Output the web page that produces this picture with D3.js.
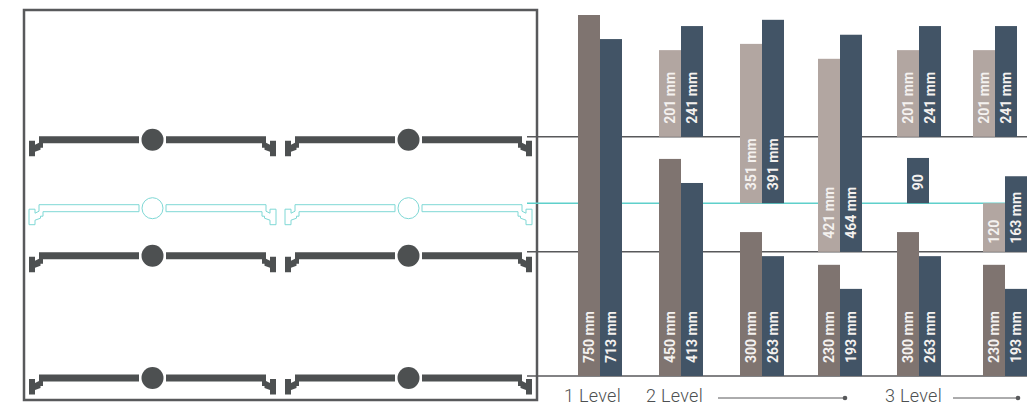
<!DOCTYPE html>
<html>
<head>
<meta charset="utf-8">
<script src="https://d3js.org/d3.v7.min.js"></script>
<style>
  html, body { margin: 0; padding: 0; background: #fff; }
  svg { display: block; }
</style>
</head>
<body>
<div id="chart"></div>
<script>
// floor levels, mm above the bottom line
var levels = [0, 258, 359, 497];
var levelKinds = ["floor", "floor", "water", "floor"];

// one entry per bar
var barStacks = ["A", "A", "B", "B", "C", "C", "D", "D", "E", "E", "F", "F",
                 "G", "G", "H", "H", "I", "I", "J", "J", "K", "L", "L", "M", "M"];
var barKinds = ["dark", "navy", "dark", "navy", "dark", "navy", "dark", "navy", "dark", "navy", "dark", "navy",
                "light", "navy", "light", "navy", "light", "navy", "light", "navy", "navy", "light", "navy", "light", "navy"];
var barBases = [0, 0, 0, 0, 0, 0, 0, 0, 0, 0, 0, 0,
                497, 497, 359, 359, 258, 258, 497, 497, 359, 258, 258, 497, 497];
var barTops = [750, 700, 451, 401, 299, 249, 231, 181, 299, 249, 231, 181,
               677, 727, 690, 740, 659, 709, 677, 727, 453, 359, 415, 677, 727];
var barLabels = ["750 mm", "713 mm", "450 mm", "413 mm", "300 mm", "263 mm", "230 mm", "193 mm",
                 "300 mm", "263 mm", "230 mm", "193 mm",
                 "201 mm", "241 mm", "351 mm", "391 mm", "421 mm", "464 mm",
                 "201 mm", "241 mm", "90", "120", "163 mm", "201 mm", "241 mm"];

var stackNames = ["A", "B", "C", "D", "E", "F", "G", "H", "I", "J", "K", "L", "M"];
var captions = ["1 Level", "2 Level", "3 Level"];

var svgWidth = 1027;
var svgHeight = 403;

var svg = d3.select("#chart").append("svg")
    .attr("width", svgWidth)
    .attr("height", svgHeight);

var yScale = d3.scaleLinear()
    .domain([0, 750])
    .range([376, 15]);

var xScale = d3.scaleOrdinal()
    .domain(stackNames)
    .range([578, 659, 740, 818, 897, 983, 659, 740, 818, 897, 907, 983, 973]);

var barWidth = 22;

var barColor = d3.scaleOrdinal()
    .domain(["dark", "light", "navy"])
    .range(["#7f7470", "#b2a6a1", "#425466"]);

var lineColor = d3.scaleOrdinal()
    .domain(["floor", "water"])
    .range(["#58595b", "#5fd0cb"]);

// left panel
svg.append("rect")
    .attr("x", 24)
    .attr("y", 10)
    .attr("width", 513)
    .attr("height", 390)
    .attr("fill", "none")
    .attr("stroke", "#58595b")
    .attr("stroke-width", 2.5);

// level lines
svg.selectAll(".level")
    .data(levels)
    .enter()
    .append("line")
    .attr("class", "level")
    .attr("x1", 527)
    .attr("x2", svgWidth)
    .attr("y1", d => yScale(d))
    .attr("y2", d => yScale(d))
    .attr("stroke", (d, i) => lineColor(levelKinds[i]))
    .attr("stroke-width", 1.5);

// half of a door profile, drawn to the left of the pivot
var halfProfile = "M-113.5,-3.5 L-13.5,-3.5 L-13.5,3.5 L-109.5,3.5 L-109.5,8 L-112,8 L-112,10 L-117.5,12 L-117.5,16.5 L-123.5,16.5 L-123.5,1 L-117.5,1 L-117.5,5 L-113.5,3 Z";

var rowOffsets = [2, 4, 5, 3];
var pivots = [152.5, 408.5];

levels.forEach(function(level, i) {
    var filled = levelKinds[i] === "floor";
    var color = filled ? "#4d5051" : "#7fd8d5";
    pivots.forEach(function(px) {
        var g = svg.append("g")
            .attr("transform", `translate(${px}, ${yScale(level) + rowOffsets[i]})`);
        [1, -1].forEach(function(side) {
            g.append("path")
                .attr("d", halfProfile)
                .attr("transform", `scale(${side}, 1)`)
                .attr("fill", filled ? color : "#fff")
                .attr("stroke", filled ? "none" : color)
                .attr("stroke-width", 1);
        });
        g.append("circle")
            .attr("r", filled ? 11 : 10.5)
            .attr("fill", filled ? color : "#fff")
            .attr("stroke", filled ? "none" : color)
            .attr("stroke-width", 1);
    });
});

// bars
var bars = barStacks.map((s, i) => ({
    stack: s,
    kind: barKinds[i],
    base: barBases[i],
    top: barTops[i],
    label: barLabels[i]
}));

function barX(d) {
    // K is a lone navy bar, everywhere else navy is the right hand bar
    return xScale(d.stack) + (d.kind === "navy" && d.stack !== "K" ? barWidth : 0);
}

svg.selectAll(".bar")
    .data(bars)
    .enter()
    .append("rect")
    .attr("class", "bar")
    .attr("x", barX)
    .attr("y", d => yScale(d.top))
    .attr("width", barWidth)
    .attr("height", d => yScale(d.base) - yScale(d.top))
    .attr("fill", d => barColor(d.kind));

svg.selectAll(".bar-label")
    .data(bars)
    .enter()
    .append("text")
    .attr("class", "bar-label")
    .attr("transform", d => {
        // labels in the short L stack sit lower than the rest
        var pad = d.stack === "L" ? 8 : 13;
        return `translate(${barX(d) + barWidth / 2 + 5}, ${yScale(d.base) - pad}) rotate(-90)`;
    })
    .attr("font-family", "Roboto")
    .attr("font-weight", 700)
    .attr("font-size", 14)
    .attr("fill", "#f4f1ef")
    .text(d => d.label);

// captions under the bars
var captionX = [564, 646, 885];
svg.selectAll(".caption")
    .data(captions)
    .enter()
    .append("text")
    .attr("class", "caption")
    .attr("x", (d, i) => captionX[i])
    .attr("y", 402)
    .attr("font-family", "Roboto")
    .attr("font-weight", 300)
    .attr("font-size", 18)
    .attr("letter-spacing", 0.3)
    .attr("fill", "#4d5051")
    .text(d => d);

[[718, 846], [953, 1019]].forEach(function(seg) {
    svg.append("line")
        .attr("x1", seg[0])
        .attr("x2", seg[1])
        .attr("y1", 398)
        .attr("y2", 398)
        .attr("stroke", "#58595b")
        .attr("stroke-width", 1);
    svg.append("circle")
        .attr("cx", seg[1] - 1)
        .attr("cy", 398)
        .attr("r", 2.3)
        .attr("fill", "#58595b");
});
</script>
</body>
</html>
